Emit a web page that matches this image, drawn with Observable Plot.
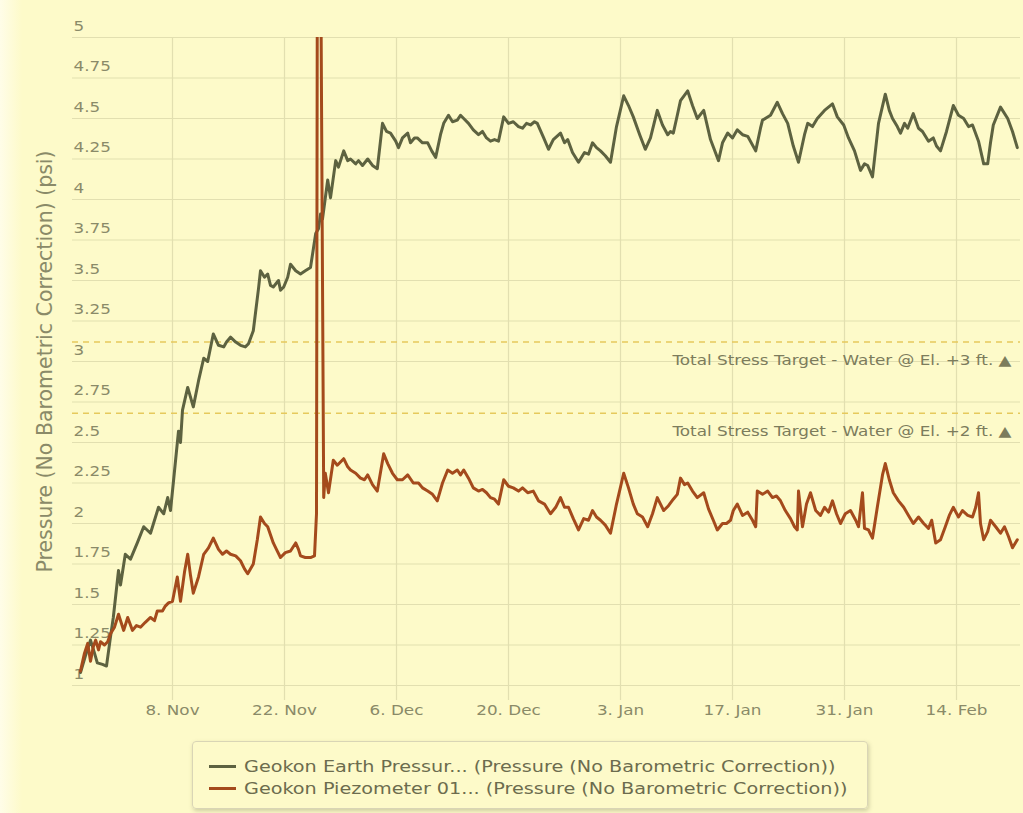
<!DOCTYPE html>
<html><head><meta charset="utf-8">
<script src="https://cdn.jsdelivr.net/npm/d3@7"></script>
<script src="https://cdn.jsdelivr.net/npm/@observablehq/plot@0.6"></script>
<style>
html,body{margin:0;padding:0;}
body{width:1023px;height:813px;background:linear-gradient(to right,#fffde8 0px,#fdfac9 22px);font-family:"DejaVu Sans",sans-serif;overflow:hidden;position:relative;}
#chart{position:absolute;left:0;top:0;}
#legend{position:absolute;left:192px;top:741px;width:676px;height:68px;border:1px solid #d9d5b5;border-radius:4px;box-shadow:1px 2px 4px rgba(120,120,90,.35);box-sizing:border-box;padding:13px 0 0 16px;font-size:16px;color:#6c6c4e;}
.item{display:flex;align-items:center;height:22px;white-space:nowrap;}
.sw{width:27px;height:3px;margin-right:8px;flex:none;}
.tx{display:inline-block;transform:scaleX(1.2);transform-origin:left center;}
</style></head>
<body>
<div id="chart"></div>
<div id="legend"></div>
<script>
const startDate = "2021-10-27";
const xDomain = ["2021-10-26T12:00:00Z", "2022-02-22T00:00:00Z"];
const xTickDates = ["2021-11-08","2021-11-22","2021-12-06","2021-12-20","2022-01-03","2022-01-17","2022-01-31","2022-02-14"];
const yTicks = [1,1.25,1.5,1.75,2,2.25,2.5,2.75,3,3.25,3.5,3.75,4,4.25,4.5,4.75,5];
const seriesNames = ["Geokon Earth Pressur... (Pressure (No Barometric Correction))", "Geokon Piezometer 01... (Pressure (No Barometric Correction))"];
const seriesColors = ["#5d6240", "#a44a1c"];
const targetValues = [3.12, 2.68];
const targetLabels = ["Total Stress Target - Water @ El. +3 ft. \u25B2", "Total Stress Target - Water @ El. +2 ft. \u25B2"];
const yLabel = "Pressure (No Barometric Correction) (psi)";

// days since startDate
const earthDays = [0.5,1.1,1.75,2.25,2.6,3.25,3.75,4.25,4.6,5.25,
5.5,6.1,6.75,7.6,8.4,9.25,10.25,10.9,11.4,11.75,
12.1,12.75,13,13.25,13.9,14.6,15.25,15.9,16.4,17.1,
17.75,18.4,18.75,19.25,19.9,20.5,21.1,21.5,22.1,22.75,
23,23.5,23.9,24.25,24.6,25.25,25.5,25.9,26.4,26.75,
27.4,28,28.6,29.25,29.9,30.25,30.5,30.75,31.4,31.75,
32.4,32.75,33.4,33.9,34.25,34.9,35.25,35.75,36.4,37,
37.6,38.25,38.75,39.25,39.9,40.25,40.75,41.4,41.75,42.25,
42.6,43.25,43.9,44.4,44.9,45.5,45.9,46.5,47,47.6,
48,48.4,49,49.6,50.25,50.75,51.25,51.75,52.25,52.75,
53.4,54,54.6,55.25,55.75,56.25,56.75,57.25,57.6,58.4,
59,59.6,60.5,61,61.4,62,62.75,63.5,64,64.5,
65,65.5,66.1,66.75,67.5,68.4,69,69.6,70.4,71.1,
71.75,72.6,73.25,73.9,74.25,74.6,75.1,75.5,76.4,77,
77.6,78.4,79.25,80.25,80.75,81.4,82,82.6,83.25,83.9,
84.9,85.5,85.75,86.75,87.6,88.25,88.9,89.6,90.25,91,
91.4,92,92.6,93.5,94.5,95.1,95.9,96.5,97.25,98,
98.5,98.9,99.5,100.25,101.1,101.6,102,102.6,103,103.5,
103.9,104.6,105.25,105.75,106.5,107.1,107.5,108,108.75,109.6,
110.25,110.9,111.5,112,112.75,113.4,113.9,114.25,114.6,115.5,
116.4,117,117.6];
const earthPsi = [1.08,1.18,1.28,1.20,1.14,1.13,1.12,1.30,1.42,1.71,
1.62,1.81,1.78,1.88,1.98,1.94,2.10,2.06,2.16,2.08,
2.25,2.57,2.50,2.70,2.84,2.72,2.88,3.02,3.00,3.17,
3.10,3.09,3.12,3.15,3.12,3.10,3.09,3.11,3.19,3.45,
3.56,3.52,3.54,3.47,3.46,3.50,3.44,3.46,3.52,3.60,
3.56,3.54,3.56,3.58,3.79,3.82,3.91,3.88,4.12,4.01,
4.24,4.20,4.30,4.24,4.25,4.22,4.24,4.21,4.25,4.21,
4.19,4.47,4.42,4.41,4.36,4.32,4.38,4.41,4.35,4.38,
4.38,4.35,4.35,4.30,4.26,4.40,4.47,4.52,4.48,4.49,
4.52,4.50,4.47,4.43,4.40,4.42,4.38,4.36,4.37,4.36,
4.51,4.47,4.48,4.45,4.44,4.47,4.46,4.48,4.47,4.38,
4.31,4.37,4.41,4.35,4.37,4.29,4.23,4.29,4.28,4.35,
4.32,4.30,4.27,4.23,4.45,4.64,4.58,4.51,4.40,4.31,
4.38,4.55,4.46,4.40,4.42,4.41,4.52,4.61,4.67,4.58,
4.50,4.55,4.37,4.24,4.35,4.41,4.38,4.43,4.40,4.39,
4.30,4.44,4.49,4.52,4.60,4.53,4.47,4.33,4.23,4.40,
4.47,4.45,4.50,4.55,4.59,4.51,4.46,4.38,4.30,4.18,
4.22,4.21,4.14,4.47,4.65,4.55,4.50,4.45,4.41,4.47,
4.44,4.53,4.44,4.42,4.36,4.38,4.33,4.30,4.42,4.58,
4.52,4.50,4.45,4.46,4.36,4.22,4.22,4.35,4.46,4.57,
4.50,4.42,4.32];

const piezoDays = [0.5,1,1.4,1.75,2.1,2.4,2.75,3,3.5,3.9,
4.25,4.75,5.25,5.9,6.4,7,7.5,8,8.6,9.25,
9.75,10.1,10.75,11.1,11.5,12,12.6,13,13.5,13.9,
14.25,14.6,15.25,15.9,16.5,17.1,17.75,18.25,18.75,19.25,
19.9,20.5,21,21.4,22.1,22.6,23,23.5,23.9,24.6,
25.1,25.5,26.1,26.75,27.4,27.75,28,28.6,29.25,29.75,
30,30.1,30.55,30.9,31.1,31.5,32.1,32.6,33,33.4,33.9,
34.25,34.9,35.5,36,36.4,37,37.6,38.4,38.9,39.5,
40.1,40.75,41.4,42.1,42.75,43.25,43.9,44.5,45.1,45.75,
46.4,47,47.6,48,48.4,49,49.6,50.25,50.75,51.25,
51.75,52.25,52.75,53.4,54,54.6,55.25,55.75,56.4,57.1,
57.75,58.5,59.25,59.9,60.5,61,61.5,62.1,62.75,63.4,
64,64.5,65,65.5,66.1,66.75,67.5,68.4,69,69.6,
70.1,70.75,71.4,72,72.6,73,73.4,74,74.6,75.1,
75.5,76,76.4,77,77.6,78.4,79,79.6,80.1,80.75,
81.25,81.75,82.1,82.6,83.25,83.9,84.5,84.9,85.1,85.75,
86.4,87,87.5,88,88.6,89.25,89.75,90.1,90.25,90.75,
91.25,91.75,92.4,93,93.5,94,94.5,95,95.5,96.1,
96.75,97.4,97.75,98.25,98.5,99,99.5,100.1,100.75,101.1,
101.6,102.1,102.75,103.4,104,104.6,105.25,105.9,106.5,106.9,
107.4,108,108.6,109.1,109.6,110.25,110.75,111.4,112,112.4,
112.75,113,113.4,113.9,114.25,114.9,115.5,116,116.5,117,
117.6];
const piezoPsi = [1.09,1.20,1.26,1.15,1.24,1.28,1.22,1.27,1.25,1.27,
1.32,1.36,1.44,1.34,1.42,1.34,1.37,1.36,1.39,1.42,
1.40,1.46,1.46,1.49,1.51,1.52,1.67,1.52,1.70,1.81,
1.68,1.57,1.67,1.81,1.85,1.91,1.84,1.81,1.83,1.81,
1.80,1.77,1.72,1.69,1.75,1.90,2.04,2.00,1.98,1.88,
1.83,1.79,1.82,1.83,1.88,1.84,1.80,1.79,1.79,1.80,
2.06,5.3,5.3,2.16,2.31,2.19,2.39,2.36,2.38,2.40,2.35,
2.33,2.31,2.28,2.27,2.30,2.24,2.20,2.43,2.37,2.31,
2.27,2.27,2.30,2.25,2.25,2.22,2.20,2.18,2.14,2.25,
2.33,2.31,2.33,2.30,2.33,2.28,2.22,2.20,2.21,2.19,
2.16,2.15,2.12,2.27,2.23,2.22,2.20,2.22,2.19,2.20,
2.14,2.12,2.06,2.10,2.16,2.10,2.10,2.03,1.96,2.03,
2.02,2.08,2.04,2.02,1.99,1.94,2.12,2.31,2.22,2.12,
2.06,2.04,1.98,2.06,2.16,2.12,2.08,2.11,2.15,2.18,
2.28,2.24,2.25,2.20,2.16,2.19,2.09,2.02,1.96,2.00,
2.00,2.02,2.08,2.12,2.05,2.07,2.02,1.98,2.20,2.18,
2.20,2.16,2.17,2.14,2.08,2.03,1.98,1.96,2.20,1.98,
2.12,2.19,2.08,2.05,2.10,2.07,2.14,2.06,2.00,2.06,
2.08,2.02,1.98,2.19,1.97,1.96,1.91,2.10,2.30,2.37,
2.27,2.19,2.14,2.10,2.05,2.00,2.04,2.00,1.97,2.02,
1.88,1.90,1.98,2.05,2.10,2.04,2.08,2.05,2.04,2.10,
2.19,2.00,1.90,1.95,2.02,1.98,1.94,1.98,1.92,1.85,
1.90];

const t0 = Date.parse(startDate + "T00:00:00Z");
const toDate = d => new Date(t0 + d * 864e5);
const rows = [
  ...earthDays.map((d, i) => ({date: toDate(d), psi: earthPsi[i], series: seriesNames[0]})),
  ...piezoDays.map((d, i) => ({date: toDate(d), psi: piezoPsi[i], series: seriesNames[1]}))
];
const xTicks = xTickDates.map(s => new Date(s + "T00:00:00Z"));
const xDom = xDomain.map(s => new Date(s));
const targets = targetValues.map((v, i) => ({value: v, label: targetLabels[i]}));
const gridColor = "#e2dfb0";
const textColor = "#8a8a68";

const chart = Plot.plot({
  width: 1023, height: 726,
  marginTop: 37, marginBottom: 41, marginLeft: 72, marginRight: 3,
  style: {background: "transparent", fontFamily: "DejaVu Sans, sans-serif", fontSize: "14px", color: textColor, overflow: "visible"},
  x: {type: "utc", domain: xDom},
  y: {domain: [1, 5]},
  color: {domain: seriesNames, range: seriesColors},
  marks: [
    Plot.gridY({ticks: yTicks, stroke: gridColor, strokeOpacity: 1, strokeWidth: 1.2}),
    Plot.gridX({ticks: xTicks, stroke: gridColor, strokeOpacity: 1, strokeWidth: 1.2}),
    Plot.axisX({ticks: xTicks, tickSize: 15, tickPadding: 5, stroke: gridColor, strokeWidth: 1.2, tickFormat: d3.utcFormat("%-d. %b"), label: null, fill: textColor}),
    Plot.axisY({ticks: yTicks, tickSize: 0, tickPadding: 0, textAnchor: "start", dx: 1, dy: -11, tickFormat: d => String(d), label: null, fill: textColor}),
    Plot.text([yLabel], {frameAnchor: "left", rotate: -90, textAnchor: "middle", dx: -27, text: d => d, fontSize: 20.5, fill: textColor}),
    Plot.ruleY(targets, {y: "value", stroke: "#e6c95c", strokeWidth: 1.5, strokeDasharray: "6,5"}),
    Plot.text(targets, {x: () => xDom[1], y: "value", text: "label", textAnchor: "end", dx: -9, dy: 18, fontSize: 14, fill: "#7c7c5c"}),
    Plot.line(rows, {x: "date", y: "psi", stroke: "series", z: "series", strokeWidth: 3, clip: true, strokeLinejoin: "round"})
  ]
});
// the reference's horizontal texts are drawn wider than tall: stretch them about their anchor
chart.querySelectorAll("text").forEach(t => {
  const tr = t.getAttribute("transform") || "";
  if (!tr.includes("rotate")) t.setAttribute("transform", (tr + " scale(1.2,1)").trim());
});
document.getElementById("chart").appendChild(chart);

const legend = document.getElementById("legend");
seriesNames.forEach((name, i) => {
  const item = document.createElement("div");
  item.className = "item";
  const sw = document.createElement("span");
  sw.className = "sw";
  sw.style.background = seriesColors[i];
  const tx = document.createElement("span");
  tx.className = "tx";
  tx.textContent = name;
  item.appendChild(sw); item.appendChild(tx);
  legend.appendChild(item);
});
</script>
</body></html>
